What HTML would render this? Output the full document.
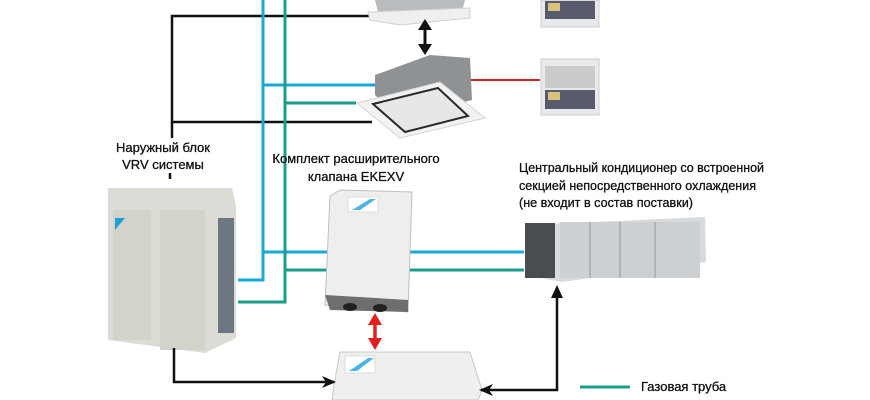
<!DOCTYPE html>
<html><head><meta charset="utf-8"><style>
html,body{margin:0;padding:0;background:#fff;width:870px;height:400px;overflow:hidden}
svg{display:block}
text{font-family:"Liberation Sans","DejaVu Sans",sans-serif;font-size:13px;fill:#111;stroke:#111;stroke-width:0.3}
</style></head><body>
<svg width="870" height="400" viewBox="0 0 870 400">
<defs>
<marker id="ab" markerWidth="14" markerHeight="12" refX="12" refY="6" orient="auto" markerUnits="userSpaceOnUse"><path d="M0,0 L14,6 L0,12 L4,6z" fill="#111"/></marker>
</defs>
<polyline points="375,16 172,16 172,122 372,122" fill="none" stroke="#111" stroke-width="2.5"/>
<line x1="172" y1="122" x2="172" y2="138" stroke="#111" stroke-width="2.5"/>
<line x1="170" y1="173" x2="170" y2="179" stroke="#111" stroke-width="2.5"/>
<g stroke="#1aa8d6" stroke-width="3" fill="none">
<polyline points="263,0 263,280 238,280"/>
<line x1="263" y1="85" x2="378" y2="85"/>
<line x1="263" y1="252" x2="524" y2="252"/>
</g>
<g stroke="#1a9e8c" stroke-width="3" fill="none">
<polyline points="285,0 285,302 238,302"/>
<line x1="285" y1="103" x2="356" y2="103"/>
<line x1="285" y1="270" x2="524" y2="270"/>
<line x1="580" y1="387" x2="630" y2="387"/>
</g>
<line x1="465" y1="80" x2="540" y2="80" stroke="#d0262a" stroke-width="2"/>
<path d="M375,0 L465,0 L462,12 L378,12z" fill="#b9bcbf"/>
<path d="M368,12 L470,8 L470,18 L400,25 L370,20z" fill="#eeefee" stroke="#cfd1d2"/>
<line x1="425" y1="26" x2="425" y2="46" stroke="#111" stroke-width="3"/>
<path d="M418,30 L425,19 L432,30z M418,44 L425,55 L432,44z" fill="#111"/>
<path d="M375,75 L430,55 L470,58 L472,100 L400,118 L375,95z" fill="#8f9295"/>
<path d="M357,103 L440,82 L485,118 L400,138z" fill="#f2f2f1" stroke="#d2d4d5"/>
<path d="M373,104 L438,88 L468,116 L405,132z" fill="#e6e7e7" stroke="#2a2a2a" stroke-width="2"/>
<g>
<rect x="541" y="0" width="58" height="27" fill="#e8e9ea" stroke="#ccc"/>
<rect x="545" y="1" width="50" height="18" fill="#575b6b"/>
<rect x="548" y="3" width="12" height="8" fill="#d9c37a"/>
<rect x="541" y="59" width="58" height="56" fill="#e8e9ea" stroke="#ccc"/>
<rect x="545" y="66" width="50" height="22" fill="#c9cccb"/>
<rect x="545" y="90" width="50" height="19" fill="#575b6b"/>
<rect x="548" y="92" width="12" height="8" fill="#d9c37a"/>
</g>
<path d="M108,188 L232,188 L236,205 L236,338 L205,353 L108,340z" fill="#dcdbd5"/>
<rect x="113" y="210" width="38" height="130" fill="#d3d2cb"/>
<rect x="160" y="210" width="45" height="140" fill="#d3d2cb"/>
<rect x="218" y="218" width="16" height="115" fill="#6c7782"/>
<path d="M115,218 L125,218 L115,230z" fill="#1c9ed6"/>
<path d="M340,190 L412,192 L408,312 L325,305 L330,196z" fill="#eeeeec" stroke="#bfbfbd"/>
<path d="M325,295 L408,300 L408,312 L330,310z" fill="#6e6e6c"/>
<ellipse cx="350" cy="307" rx="7" ry="4" fill="#222"/><ellipse cx="380" cy="308" rx="7" ry="4" fill="#222"/>
<path d="M348,197 L378,197 L378,212 L348,212z" fill="#fff" stroke="#ddd"/>
<path d="M352,210 L370,199 L376,199 L360,210z" fill="#4bb5e4"/>
<line x1="375" y1="322" x2="375" y2="340" stroke="#e0201d" stroke-width="3.5"/>
<path d="M368,325 L375,313 L382,325z M368,338 L375,350 L382,338z" fill="#e0201d"/>
<path d="M340,352 L470,352 L482,390 L478,400 L332,400 L334,385z" fill="#efefed" stroke="#c8c8c6"/>
<path d="M345,356 L375,356 L375,373 L345,373z" fill="#fff" stroke="#ddd"/>
<path d="M349,371 L368,358 L374,358 L357,371z" fill="#4bb5e4"/>
<polyline points="174,348 174,382 334,382" fill="none" stroke="#111" stroke-width="2.5" marker-end="url(#ab)"/>
<polyline points="557,296 557,390 481,390" fill="none" stroke="#111" stroke-width="2.5" marker-end="url(#ab)"/>
<path d="M551,298 L557,285 L563,298z" fill="#111"/>
<path d="M525,225 L705,217 L706,262 L562,282 L525,275z" fill="#d9dadb"/>
<rect x="525" y="223" width="30" height="55" fill="#4a4d50"/>
<rect x="560" y="222" width="140" height="56" fill="#cdd0d2"/>
<line x1="590" y1="222" x2="590" y2="278" stroke="#999"/><line x1="620" y1="222" x2="620" y2="278" stroke="#999"/><line x1="655" y1="222" x2="655" y2="278" stroke="#999"/>
<text x="163" y="152" text-anchor="middle">Наружный блок</text>
<text x="163" y="169" text-anchor="middle">VRV системы</text>
<text x="356" y="163" text-anchor="middle">Комплект расширительного</text>
<text x="356" y="181" text-anchor="middle">клапана EKEXV</text>
<text x="519" y="172" textLength="245" lengthAdjust="spacingAndGlyphs">Центральный кондиционер со встроенной</text>
<text x="519" y="190" textLength="237" lengthAdjust="spacingAndGlyphs">секцией непосредственного охлаждения</text>
<text x="519" y="207" textLength="174" lengthAdjust="spacingAndGlyphs">(не входит в состав поставки)</text>
<text x="641" y="391">Газовая труба</text>
</svg>
</body></html>
